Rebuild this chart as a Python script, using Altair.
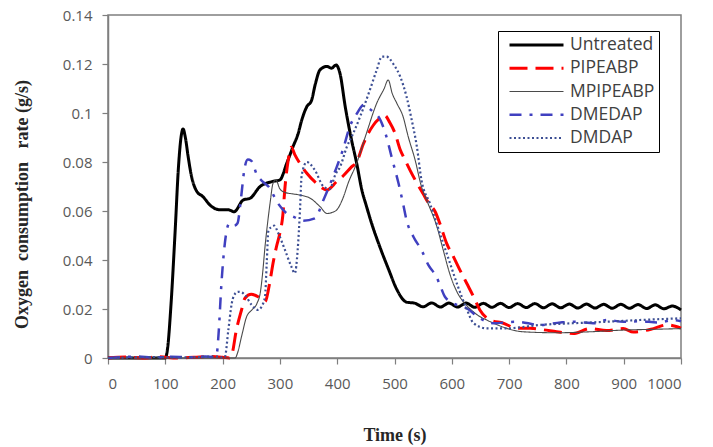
import altair as alt
import pandas as pd

# Series names, in legend order
series_names = ["Untreated", "PIPEABP", "MPIPEABP", "DMEDAP", "DMDAP"]

# Time (s) and oxygen consumption rate (g/s) for each treatment
untreated_t = [0, 20, 40, 60, 80, 100, 104, 110, 117, 123, 128, 131, 135, 140, 145, 155, 165,
               180, 195, 210, 220, 236, 248, 265, 286, 300, 312, 323, 332, 338, 347, 355, 362,
               370, 382, 390, 398, 405, 414, 425, 434, 443, 451, 460, 475, 490, 504, 521,
               535, 550, 565, 580, 595, 610, 625, 640, 655, 670, 685, 700, 715, 730, 745, 760,
               775, 790, 805, 820, 835, 850, 865, 880, 895, 910, 925, 940, 955, 970, 985, 1000]
untreated_v = [0, 0, 0, 0, 0, 0, 0.004, 0.022, 0.051, 0.078, 0.091, 0.0935, 0.090, 0.082, 0.075,
               0.068, 0.066, 0.062, 0.0605, 0.0605, 0.0597, 0.0645, 0.0652, 0.0699, 0.072, 0.0727,
               0.0795, 0.0863, 0.0917, 0.097, 0.1026, 0.105, 0.112, 0.1176, 0.119, 0.1183, 0.1196,
               0.116, 0.1026, 0.089, 0.0795, 0.0686, 0.062, 0.055, 0.045, 0.036, 0.028, 0.0228,
               0.0224, 0.0209, 0.0225, 0.0208, 0.0224, 0.0208, 0.0224, 0.0207, 0.0223, 0.0207,
               0.0223, 0.0206, 0.0222, 0.0206, 0.0222, 0.0205, 0.0221, 0.0205, 0.0220, 0.0204,
               0.0220, 0.0204, 0.0219, 0.0203, 0.0219, 0.0203, 0.0218, 0.0202, 0.0217, 0.0201,
               0.0212, 0.0196]

pipeabp_t = [0, 30, 60, 90, 120, 150, 180, 200, 212, 216, 224, 233, 239, 250, 262, 274, 283, 288,
             294, 300, 305, 309, 314, 320, 326, 336, 347, 364, 382, 399, 411, 425, 434, 446, 463,
             475, 483, 492, 501, 510, 518, 527, 536, 550, 560, 571, 579, 591, 603, 614, 626, 638,
             649, 667, 690, 713, 737, 760, 783, 812, 841, 870, 899, 917, 952, 975, 1000]
pipeabp_v = [0, 0.0004, 0, 0.0005, 0, 0.0003, 0.0006, 0.0003, 0, 0.0012, 0.0114, 0.0196, 0.0244,
             0.026, 0.025, 0.023, 0.0318, 0.0387, 0.0454, 0.051, 0.058, 0.070, 0.080, 0.086, 0.083,
             0.079, 0.0754, 0.0713, 0.0686, 0.072, 0.0745, 0.078, 0.080, 0.0876, 0.095, 0.098,
             0.099, 0.096, 0.0917, 0.085, 0.081, 0.0767, 0.0727, 0.067, 0.063, 0.0597, 0.055,
             0.0468, 0.0413, 0.036, 0.0305, 0.025, 0.0196, 0.0155, 0.0142, 0.0121, 0.0121, 0.0115,
             0.0107, 0.010, 0.012, 0.0112, 0.012, 0.0106, 0.012, 0.0135, 0.0122]

mpipeabp_t = [0, 100, 200, 222, 226, 233, 242, 251, 260, 266, 270, 274, 277, 280, 283, 288, 293,
              300, 310, 322, 335, 353, 370, 382, 392, 399, 411, 419, 434, 451, 469, 482, 489, 496,
              504, 515, 524, 536, 547, 556, 574, 585, 597, 609, 620, 632, 645, 661, 680, 696, 725,
              783, 841, 899, 950, 1000]
mpipeabp_v = [0, 0, 0, 0, 0.002, 0.0087, 0.0169, 0.0196, 0.0223, 0.027, 0.035, 0.0454, 0.052,
              0.058, 0.0635, 0.0713, 0.0727, 0.069, 0.0675, 0.067, 0.0665, 0.0652, 0.0618, 0.059,
              0.0595, 0.0604, 0.0658, 0.0713, 0.0795, 0.0917, 0.104, 0.110, 0.1135, 0.108, 0.104,
              0.0985, 0.0903, 0.0808, 0.070, 0.0645, 0.0536, 0.0441, 0.034, 0.027, 0.023, 0.020,
              0.0175, 0.0155, 0.0135, 0.0121, 0.0107, 0.0103, 0.0107, 0.0114, 0.0117, 0.012]

dmedap_t = [0, 20, 50, 80, 110, 140, 170, 185, 190, 193, 198, 204, 212, 220, 226, 232, 238, 244,
            250, 260, 270, 280, 297, 312, 325, 340, 361, 376, 396, 410, 422, 435, 446, 455, 465,
            472, 486, 495, 507, 515, 521, 533, 547, 559, 573, 579, 588, 603, 626, 649, 672, 713,
            754, 790, 812, 850, 870, 900, 928, 960, 987, 1000]
dmedap_v = [0, 0.0003, 0.0006, 0.0002, 0.0005, 0.0003, 0.0006, 0.0004, 0.002, 0.010, 0.0305,
            0.047, 0.055, 0.054, 0.055, 0.065, 0.077, 0.081, 0.0805, 0.0747, 0.072, 0.070, 0.063,
            0.059, 0.0575, 0.056, 0.057, 0.0645, 0.076, 0.085, 0.0944, 0.100, 0.1033, 0.102,
            0.100, 0.0985, 0.0903, 0.082, 0.0713, 0.063, 0.0563, 0.0495, 0.0441, 0.038, 0.0332,
            0.030, 0.025, 0.0223, 0.0203, 0.0162, 0.0142, 0.0148, 0.0135, 0.0145, 0.0148, 0.0142,
            0.0155, 0.0148, 0.015, 0.0145, 0.0155, 0.015]

dmdap_t = [0, 40, 80, 120, 160, 190, 200, 204, 210, 216, 221, 227, 233, 239, 251, 262, 268, 274,
           277, 280, 286, 290, 297, 309, 320, 326, 331, 335, 338, 347, 361, 376, 387, 397, 405,
           417, 428, 440, 457, 469, 478, 486, 498, 510, 521, 530, 539, 547, 562, 579, 597, 611,
           626, 638, 661, 696, 754, 812, 870, 928, 1000]
dmdap_v = [0, 0.0002, 0.0004, 0.0002, 0.0004, 0.0006, 0.0002, 0.0005, 0.0114, 0.0223, 0.026,
           0.027, 0.0268, 0.0257, 0.0216, 0.0196, 0.021, 0.025, 0.0387, 0.052, 0.0536, 0.054,
           0.051, 0.044, 0.0373, 0.0346, 0.044, 0.060, 0.0745, 0.080, 0.0767, 0.070, 0.069,
           0.075, 0.078, 0.0863, 0.0917, 0.0985, 0.1094, 0.1176, 0.123, 0.123, 0.120, 0.1148,
           0.1067, 0.0972, 0.0863, 0.0727, 0.063, 0.051, 0.0386, 0.029, 0.020, 0.0142, 0.0121,
           0.0121, 0.0135, 0.0142, 0.0148, 0.0155, 0.0162]

series_data = {
    "Untreated": (untreated_t, untreated_v),
    "PIPEABP": (pipeabp_t, pipeabp_v),
    "MPIPEABP": (mpipeabp_t, mpipeabp_v),
    "DMEDAP": (dmedap_t, dmedap_v),
    "DMDAP": (dmdap_t, dmdap_v),
}

rows = []
for order, name in enumerate(series_names):
    ts, vs = series_data[name]
    for t, v in zip(ts, vs):
        rows.append({"series": name, "order": order, "time": t, "rate": v})
df = pd.DataFrame(rows)

x_ticks = list(range(0, 1001, 100))
y_ticks = [0, 0.02, 0.04, 0.06, 0.08, 0.1, 0.12, 0.14]

line_colors = ["#000000", "#ff0000", "#4a4a4a", "#4040c0", "#3d4f94"]
line_dashes = [[1, 0], [18, 8], [1, 0], [12, 8, 3, 8], [2, 2.5]]
line_widths = [3, 3, 1.1, 2.5, 2.2]

tick_font = "Open Sans"
title_font = "Liberation Serif"
# non-breaking spaces keep the wide word gaps of the axis title
y_title = "Oxygen\u00a0\u00a0consumption\u00a0\u00a0\u00a0rate (g/s)"

chart = (
    alt.Chart(df)
    .mark_line(interpolate="monotone")
    .encode(
        x=alt.X(
            "time:Q",
            scale=alt.Scale(domain=[0, 1000], nice=False),
            axis=alt.Axis(
                values=x_ticks,
                format="d",
                title="Time (s)",
                titleY=77,
                titleBaseline="middle",
                labelPadding=12,
            ),
        ),
        y=alt.Y(
            "rate:Q",
            scale=alt.Scale(domain=[0, 0.14], nice=False),
            axis=alt.Axis(
                values=y_ticks,
                format="~g",
                title=y_title,
                titleX=-86,
                titleY=189,
                titleAlign="center",
                titleBaseline="middle",
                labelPadding=10,
            ),
        ),
        color=alt.Color(
            "series:N",
            scale=alt.Scale(domain=series_names, range=line_colors),
            legend=alt.Legend(title=None),
        ),
        strokeDash=alt.StrokeDash(
            "series:N",
            scale=alt.Scale(domain=series_names, range=line_dashes),
            legend=alt.Legend(title=None),
        ),
        strokeWidth=alt.StrokeWidth(
            "series:N",
            scale=alt.Scale(type="ordinal", domain=series_names, range=line_widths),
            legend=alt.Legend(title=None),
        ),
        order="order:Q",
    )
    .properties(
        width=573,
        height=343,
        autosize=alt.AutoSizeParams(type="none"),
        padding={"left": 108, "top": 15, "right": 32, "bottom": 89},
        background="white",
    )
    .configure_view(stroke="#7f7f7f", strokeWidth=1.5)
    .configure_axis(
        grid=False,
        domainColor="#7f7f7f",
        domainWidth=1.5,
        tickColor="#7f7f7f",
        tickSize=6,
        tickWidth=1.2,
        labelFont=tick_font,
        labelFontSize=15,
        labelColor="#595959",
        titleFont=title_font,
        titleFontSize=18,
        titleFontWeight="bold",
        titleColor="#262626",
    )
    .configure_legend(
        orient="none",
        legendX=390,
        legendY=16,
        padding=4,
        strokeColor="#000000",
        fillColor="#ffffff",
        symbolType="stroke",
        symbolSize=2916,
        symbolOffset=6,
        labelFont=tick_font,
        labelFontSize=17.5,
        labelColor="#404040",
        labelOffset=5,
        clipHeight=20,
        rowPadding=3.25,
    )
)

chart.save("out.html", embed_options={"renderer": "svg", "actions": False})
